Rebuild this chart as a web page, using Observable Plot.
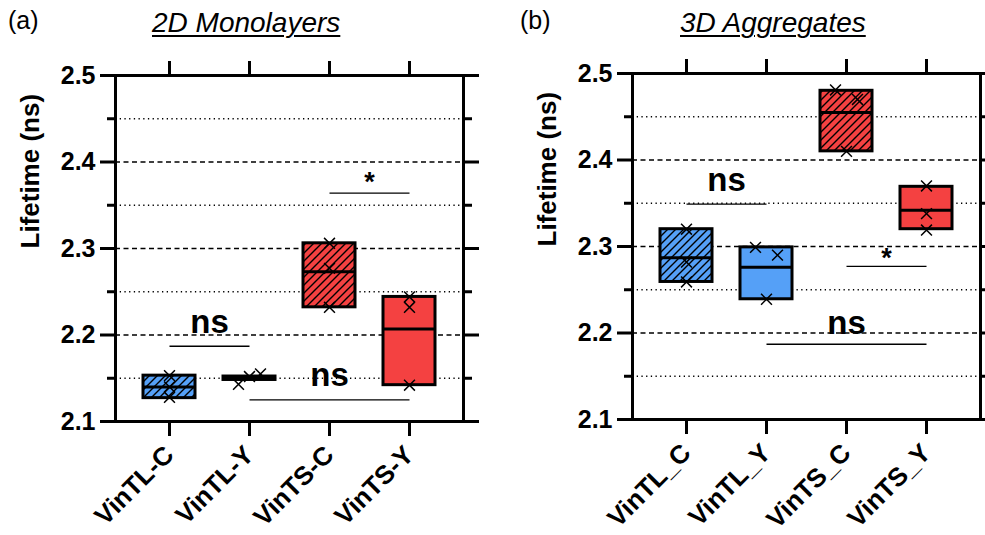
<!DOCTYPE html>
<html><head><meta charset="utf-8">
<script src="https://cdn.jsdelivr.net/npm/d3@7"></script>
<script src="https://cdn.jsdelivr.net/npm/@observablehq/plot@0.6"></script>
<style>
body{margin:0;background:#fff;}
#wrap{position:relative;width:985px;height:535px;overflow:hidden;font-family:"Liberation Sans",Arial,sans-serif;background:#fff;}
.panel{position:absolute;top:45px;}
.lbl{position:absolute;font-size:25px;line-height:1;color:#000;}
.ttl{position:absolute;font-size:28px;line-height:1;font-style:italic;text-decoration:underline;text-decoration-thickness:1.5px;text-underline-offset:3px;color:#000;}
</style></head>
<body><div id="wrap">
<div id="pa" class="panel" style="left:0px"></div>
<div id="pb" class="panel" style="left:492px"></div>
<div class="lbl" style="left:8px;top:8px">(a)</div>
<div class="ttl" style="left:152px;top:9px">2D Monolayers</div>
<div class="lbl" style="left:520px;top:8px">(b)</div>
<div class="ttl" style="left:680px;top:9px">3D Aggregates</div>
</div>
<script>
// ---------- data ----------
const catsA = ["VinTL-C", "VinTL-Y", "VinTS-C", "VinTS-Y"];
const catsB = ["VinTL_C", "VinTL_Y", "VinTS_C", "VinTS_Y"];
const boxColors = ["#55a0f7", "#55a0f7", "#f44141", "#f44141"];
const hatched = [true, false, true, false];

// panel (a) 2D Monolayers: box = min..max, line = mean
const loA   = [2.127, 2.148, 2.232, 2.142];
const hiA   = [2.153, 2.152, 2.306, 2.244];
const meanA = [2.140, 2.150, 2.273, 2.207];
const ptCatA = [0, 0, 0, 1, 1, 1, 2, 2, 2, 3, 3, 3];
const ptValA = [2.153, 2.140, 2.128, 2.155, 2.152, 2.143, 2.306, 2.277, 2.232, 2.244, 2.232, 2.142];
const ptJitA = [0, 0, 0, 1, 0, -1, 0, 0, 0, 0, 0, 0];

// panel (b) 3D Aggregates
const loB   = [2.259, 2.239, 2.410, 2.320];
const hiB   = [2.320, 2.299, 2.480, 2.369];
const meanB = [2.287, 2.276, 2.455, 2.342];
const ptCatB = [0, 0, 0, 1, 1, 1, 2, 2, 2, 3, 3, 3];
const ptValB = [2.320, 2.282, 2.259, 2.299, 2.290, 2.239, 2.481, 2.470, 2.410, 2.370, 2.338, 2.319];
const ptJitB = [0, 0, 0, -1, 1, 0, -1, 1, 0, 0, 0, 0];

// significance brackets
const sigFromA = [0, 1, 2], sigToA = [1, 3, 3];
const sigYA = [2.187, 2.125, 2.364];
const sigTextYA = [2.215, 2.153, 2.376];
const sigLabelA = ["ns", "ns", "*"];

const sigFromB = [0, 2, 1], sigToB = [1, 3, 3];
const sigYB = [2.349, 2.277, 2.187];
const sigTextYB = [2.376, 2.286, 2.211];
const sigLabelB = ["ns", "*", "ns"];

const yMajor = [2.1, 2.2, 2.3, 2.4, 2.5];
const yGrid = [2.2, 2.3, 2.4];
const yMinor = [2.15, 2.25, 2.35, 2.45];
const yLabel = "Lifetime (ns)";

// ---------- chart ----------
function panel(id, cats, lo, hi, mean, pc, pv, pj, sf, st, sy, sty, sl, layout) {
  const boxes = cats.map((c, i) => ({cat: c, lo: lo[i], hi: hi[i], mean: mean[i], hatched: hatched[i]}));
  const pts = pv.map((v, i) => ({cat: cats[pc[i]], v, j: pj[i]}));
  const sigs = sy.map((y, i) => ({from: cats[sf[i]], to: cats[st[i]], span: st[i] - sf[i], y, ty: sty[i], label: sl[i]}));
  const pad = 0.35;
  const step = (layout.width - layout.marginLeft - layout.marginRight) / (cats.length + pad);
  const jitPx = 11;
  const hid = "hatch" + id;
  const dotOpt = {x: "cat", y: "v", symbol: "times", r: 5, stroke: "black", strokeWidth: 1.5};
  const tickOpt = {strokeWidth: 3, label: null};
  const svg = Plot.plot({
    ...layout,
    style: {fontFamily: "'Liberation Sans', Arial, sans-serif", fontWeight: "bold", fontSize: "25px", background: "transparent"},
    x: {type: "band", domain: cats, padding: pad},
    y: {domain: [2.1, 2.5]},
    color: {domain: cats, range: boxColors},
    marks: [
      Plot.ruleY(yMinor, {stroke: "black", strokeWidth: 1.3, strokeDasharray: "1.3,3.4"}),
      Plot.ruleY(yGrid, {stroke: "black", strokeWidth: 1.3, strokeDasharray: "5,3.5"}),
      Plot.barY(boxes, {x: "cat", y1: "lo", y2: "hi", fill: "cat"}),
      Plot.barY(boxes.filter(d => d.hatched), {x: "cat", y1: "lo", y2: "hi", fill: `url(#${hid})`}),
      Plot.barY(boxes, {x: "cat", y1: "lo", y2: "hi", fill: "none", stroke: "black", strokeWidth: 3}),
      Plot.tickY(boxes, {x: "cat", y: "mean", stroke: "black", strokeWidth: 3}),
      Plot.dot(pts.filter(d => d.j === 0), dotOpt),
      Plot.dot(pts.filter(d => d.j < 0), {...dotOpt, dx: -jitPx}),
      Plot.dot(pts.filter(d => d.j > 0), {...dotOpt, dx: jitPx}),
      Plot.link(sigs, {x1: "from", x2: "to", y1: "y", y2: "y", stroke: "black", strokeWidth: 1.3}),
      ...sigs.map(s => Plot.text([s], {x: "from", y: "ty", text: "label", dx: s.span * step / 2,
        fontSize: s.label === "ns" ? 33 : 27, fill: "black"})),
      Plot.axisY(yMajor, {anchor: "left", tickSize: 15, tickPadding: 5, fontSize: 25, tickFormat: ".1f", ...tickOpt}),
      Plot.axisY(yMinor, {anchor: "left", tickSize: 8, tickFormat: () => "", ...tickOpt}),
      Plot.axisY(yMajor, {anchor: "right", tickSize: 15, tickFormat: () => "", ...tickOpt}),
      Plot.axisY(yMinor, {anchor: "right", tickSize: 8, tickFormat: () => "", ...tickOpt}),
      Plot.axisX({anchor: "top", tickSize: 15, tickFormat: () => "", ...tickOpt}),
      Plot.axisX({anchor: "bottom", tickSize: 15, tickRotate: -45, tickPadding: 14, fontSize: 26, ...tickOpt}),
      Plot.frame({stroke: "black", strokeWidth: 3}),
      Plot.text([yLabel], {frameAnchor: "left", dx: -85, rotate: -90, fontSize: 26, fill: "black"})
    ]
  });
  svg.insertAdjacentHTML("afterbegin",
    `<defs><pattern id="${hid}" patternUnits="userSpaceOnUse" width="8" height="8">` +
    `<path d="M-2,2 L2,-2 M0,8 L8,0 M6,10 L10,6" stroke="black" stroke-width="1.4"/></pattern></defs>`);
  document.getElementById(id).appendChild(svg);
}

panel("pa", catsA, loA, hiA, meanA, ptCatA, ptValA, ptJitA, sigFromA, sigToA, sigYA, sigTextYA, sigLabelA,
  {width: 492, height: 490, marginTop: 30, marginBottom: 114, marginLeft: 115, marginRight: 29});
panel("pb", catsB, loB, hiB, meanB, ptCatB, ptValB, ptJitB, sigFromB, sigToB, sigYB, sigTextYB, sigLabelB,
  {width: 493, height: 490, marginTop: 28, marginBottom: 116, marginLeft: 140, marginRight: 5});
</script>
</body></html>
